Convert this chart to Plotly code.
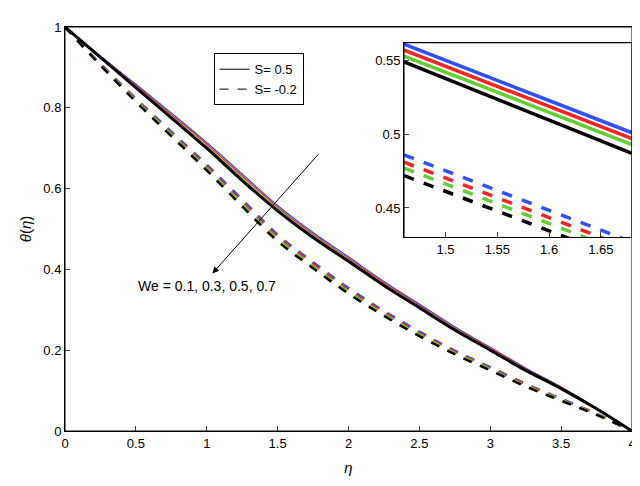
import plotly.graph_objects as go

eta = [0, 0.25, 0.5, 0.75, 1, 1.25, 1.5, 1.75, 2, 2.25, 2.5, 2.75, 3, 3.25, 3.5, 3.75, 4]
we_labels = ['0.1', '0.3', '0.5', '0.7']
colors = ['#3050ff', '#ff2020', '#60d030', '#000000']

solid = [
    [1, 0.928, 0.858, 0.787, 0.714, 0.636, 0.558, 0.491, 0.431, 0.370, 0.314, 0.258, 0.207, 0.156, 0.109, 0.057, 0],
    [1, 0.927, 0.855, 0.783, 0.710, 0.631, 0.554, 0.487, 0.427, 0.367, 0.311, 0.255, 0.205, 0.154, 0.108, 0.056, 0],
    [1, 0.926, 0.852, 0.779, 0.705, 0.626, 0.550, 0.483, 0.424, 0.363, 0.308, 0.253, 0.202, 0.152, 0.106, 0.056, 0],
    [1, 0.925, 0.850, 0.775, 0.700, 0.620, 0.545, 0.479, 0.420, 0.360, 0.305, 0.250, 0.200, 0.150, 0.105, 0.055, 0],
]
dashed = [
    [1, 0.909, 0.823, 0.741, 0.659, 0.573, 0.486, 0.418, 0.354, 0.297, 0.246, 0.199, 0.158, 0.117, 0.080, 0.043, 0],
    [1, 0.908, 0.820, 0.737, 0.654, 0.567, 0.481, 0.413, 0.349, 0.293, 0.242, 0.196, 0.155, 0.115, 0.078, 0.042, 0],
    [1, 0.906, 0.818, 0.734, 0.650, 0.562, 0.476, 0.408, 0.345, 0.289, 0.239, 0.193, 0.153, 0.112, 0.077, 0.041, 0],
    [1, 0.905, 0.815, 0.730, 0.645, 0.556, 0.470, 0.403, 0.340, 0.285, 0.235, 0.190, 0.150, 0.110, 0.075, 0.040, 0],
]

# zoomed values for the inset
eta_in = [1.46, 1.68]
solid_in = [[0.561, 0.501], [0.557, 0.497], [0.553, 0.493], [0.549, 0.487]]
dashed_in = [[0.486, 0.427], [0.481, 0.422], [0.477, 0.418], [0.472, 0.413]]

fig = go.Figure()
for i in range(4):
    w = 3 if i == 3 else 1.3
    fig.add_trace(go.Scatter(x=eta, y=solid[i], mode='lines', line=dict(color=colors[i], width=w, shape='spline'),
                             showlegend=False))
    fig.add_trace(go.Scatter(x=eta, y=dashed[i], mode='lines', line=dict(color=colors[i], width=2.5, dash='dash', shape='spline'),
                             showlegend=False))
    fig.add_trace(go.Scatter(x=eta_in, y=solid_in[i], mode='lines', line=dict(color=colors[i], width=3.5),
                             xaxis='x2', yaxis='y2', showlegend=False))
    fig.add_trace(go.Scatter(x=eta_in, y=dashed_in[i], mode='lines', line=dict(color=colors[i], width=3.5, dash='dash'),
                             xaxis='x2', yaxis='y2', showlegend=False))

fig.add_trace(go.Scatter(x=[None], y=[None], mode='lines', line=dict(color='black', width=1), name='S= 0.5'))
fig.add_trace(go.Scatter(x=[None], y=[None], mode='lines', line=dict(color='black', width=1, dash='dash'), name='S= -0.2'))

ax = dict(showline=True, linecolor='black', linewidth=1, mirror=True, ticks='inside', ticklen=5, showgrid=False,
          zeroline=False, tickfont=dict(size=13, color='black'))
fig.update_layout(
    width=640, height=486, plot_bgcolor='white', paper_bgcolor='white',
    margin=dict(l=57, r=13, t=12, b=63),
    font=dict(family='Liberation Sans', color='black'),
    xaxis=dict(ax, range=[0, 4], dtick=0.5, domain=[0, 1],
               title=dict(text='<i>η</i>', font=dict(size=15), standoff=12)),
    yaxis=dict(ax, range=[0, 1], dtick=0.2, domain=[0, 1],
               title=dict(text='<i>θ</i>(<i>η</i>)', font=dict(size=15), standoff=8)),
    xaxis2=dict(ax, range=[1.46, 1.68], tickvals=[1.5, 1.55, 1.6, 1.65], domain=[0.598, 1.0], anchor='y2'),
    yaxis2=dict(ax, range=[0.43, 0.562], tickvals=[0.45, 0.5, 0.55], domain=[0.479, 0.961], anchor='x2'),
    legend=dict(x=0.262, y=0.935, xanchor='left', yanchor='top', bordercolor='black', borderwidth=1,
                bgcolor='white', font=dict(size=13)),
    shapes=[
        dict(type='rect', xref='paper', yref='paper', x0=0, x1=1, y0=0, y1=1,
             line=dict(color='black', width=1), layer='above'),
        dict(type='rect', xref='paper', yref='paper', x0=0.598, x1=1, y0=0.479, y1=0.961,
             line=dict(color='black', width=1), layer='above'),
    ],
    annotations=[
        dict(x=1.04, y=0.39, ax=1.80, ay=0.69, xref='x', yref='y', axref='x', ayref='y', text='',
             showarrow=True, arrowhead=2, arrowsize=1.3, arrowwidth=1, arrowcolor='black'),
        dict(x=1.0, y=0.36, xref='x', yref='y', text='We = 0.1, 0.3, 0.5, 0.7', showarrow=False,
             font=dict(size=14)),
    ],
)
fig.write_html("out.html")
